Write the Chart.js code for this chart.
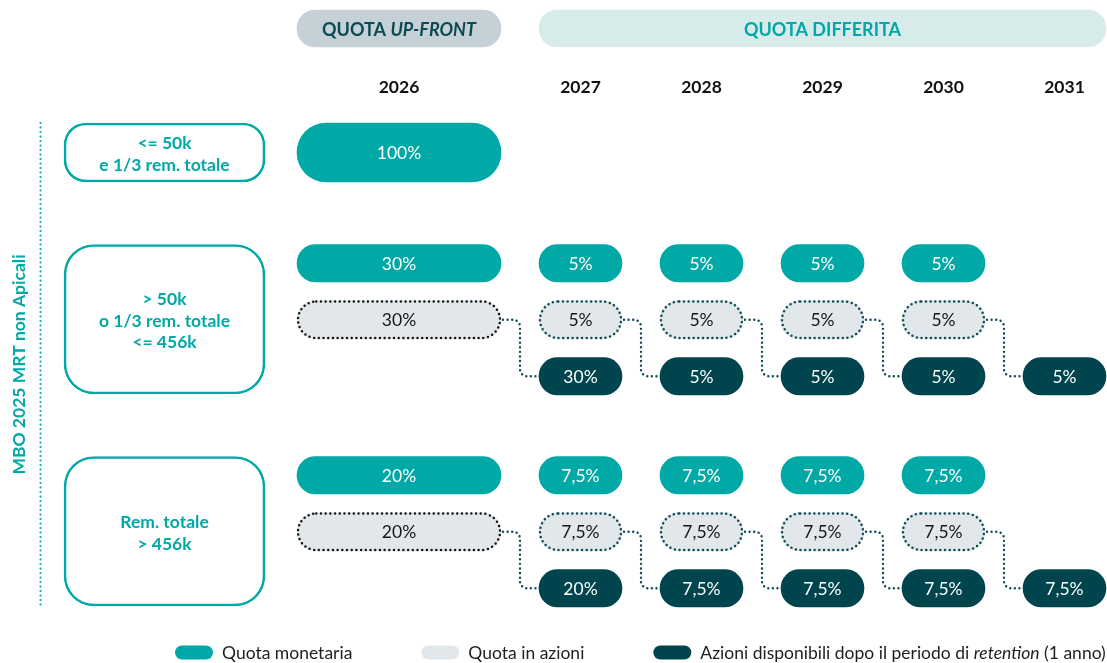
<!DOCTYPE html>
<html>
<head>
<meta charset="utf-8">
<script src="https://cdn.jsdelivr.net/npm/chart.js@4.4.1/dist/chart.umd.min.js"></script>
<style>
html,body{margin:0;padding:0;background:#ffffff;}
#wrap{position:relative;width:1107px;height:663px;overflow:hidden;}
canvas{display:block;}
</style>
</head>
<body>
<div id="wrap"><canvas id="c" width="1107" height="663"></canvas></div>
<script>
// ---------------- DATA ----------------
const years = ['2026', '2027', '2028', '2029', '2030', '2031'];
const phaseLabels = ['QUOTA UP-FRONT', 'QUOTA DIFFERITA'];
const phaseYears = [['2026'], ['2027', '2028', '2029', '2030', '2031']];
const bandLabels = [
  ['<= 50k', 'e 1/3 rem. totale'],
  ['> 50k', 'o 1/3 rem. totale', '<= 456k'],
  ['Rem. totale', '> 456k']
];
const sideTitle = 'MBO 2025 MRT non Apicali';
// percentages per band (rows) and year (columns); null = no share
const cashPct     = [[100, null, null, null, null, null], [30, 5, 5, 5, 5, null], [20, 7.5, 7.5, 7.5, 7.5, null]];
const sharesPct   = [[null, null, null, null, null, null], [30, 5, 5, 5, 5, null], [20, 7.5, 7.5, 7.5, 7.5, null]];
const releasedPct = [[null, null, null, null, null, null], [null, 30, 5, 5, 5, 5], [null, 20, 7.5, 7.5, 7.5, 7.5]];
const seriesNames = ['Quota monetaria', 'Quota in azioni', 'Azioni disponibili dopo il periodo di retention (1 anno)'];

// ---------------- STYLE / LAYOUT ----------------
const TEAL = '#00a8a6', DARK = '#00444e', GREY = '#e1e7ea';
const DOT_DARK = '#0c4a54', DOT_BLACK = '#141414';
const HDR1 = '#c6d0d7', HDR2 = '#d8ebeb', HDR1_TXT = '#0c4a52';
const FONT = 'Lato, "Open Sans", sans-serif';

const SLOT_PX = 121, ORIGIN_PX = 297, W = 1107, H = 663;
const X_MIN = -ORIGIN_PX / SLOT_PX, X_MAX = (W - ORIGIN_PX) / SLOT_PX;
const GAP = 38 / SLOT_PX;
const yearSlot = i => (i === 0 ? 0 : i + 1);
const yearSpan = i => (i === 0 ? 2 : 1);
const xRange = i => [yearSlot(i), yearSlot(i) + yearSpan(i) - GAP];
const BOX_X = [(64 - ORIGIN_PX) / SLOT_PX, (265 - ORIGIN_PX) / SLOT_PX];
const SIDE_LINE_X = (40.5 - ORIGIN_PX) / SLOT_PX;
const SIDE_TITLE_X = (18 - ORIGIN_PX) / SLOT_PX;

const GROUP_TOP = [123, 244.5, 456.5];
const PILL_H = 37.5, ROW_PITCH = 56.5, BIG_H = 59, BOX_H = 149.5;
const HEADER_Y = 28.5, YEAR_BASE = 92.5, LEGEND_Y = 652.5;
const rowY = (g, r) => (g === 0 ? GROUP_TOP[0] + BIG_H / 2 : GROUP_TOP[g] + PILL_H / 2 + r * ROW_PITCH);

const pctText = v => String(v).replace('.', ',') + '%';

function pills(values, row, groups) {
  const out = [];
  values.forEach((arr, g) => {
    if (!groups.includes(g)) return;
    arr.forEach((v, i) => {
      if (v === null || v === undefined) return;
      out.push({ x: xRange(i), y: rowY(g, row), v: v, g: g, i: i });
    });
  });
  return out;
}

const phaseData = phaseLabels.map((p, k) => {
  const first = years.indexOf(phaseYears[k][0]);
  const last = years.indexOf(phaseYears[k][phaseYears[k].length - 1]);
  return { x: [xRange(first)[0], xRange(last)[1]], y: HEADER_Y, label: p };
});

const common = { grouped: false, borderSkipped: false, borderWidth: 0, borderRadius: 200, clip: false };

const datasets = [
  Object.assign({}, common, { label: 'phases', data: phaseData, backgroundColor: [HDR1, HDR2], barThickness: 37 }),
  Object.assign({}, common, { label: 'band0', data: [{ x: BOX_X, y: GROUP_TOP[0] + BIG_H / 2, g: 0 }],
    backgroundColor: '#ffffff', borderColor: TEAL, borderWidth: 2.6, borderRadius: 22, barThickness: BIG_H, box: true }),
  Object.assign({}, common, { label: 'bands', data: [1, 2].map(g => ({ x: BOX_X, y: GROUP_TOP[g] + BOX_H / 2, g: g })),
    backgroundColor: '#ffffff', borderColor: TEAL, borderWidth: 2.6, borderRadius: 30, barThickness: BOX_H, box: true }),
  Object.assign({}, common, { label: seriesNames[0], data: pills(cashPct, 0, [0]), backgroundColor: TEAL, barThickness: BIG_H, valueColor: '#ffffff' }),
  Object.assign({}, common, { label: seriesNames[0], data: pills(cashPct, 0, [1, 2]), backgroundColor: TEAL, barThickness: PILL_H, valueColor: '#ffffff' }),
  Object.assign({}, common, { label: seriesNames[1], data: pills(sharesPct, 1, [0, 1, 2]), backgroundColor: GREY, barThickness: 38.5, valueColor: '#161616', dotted: true }),
  Object.assign({}, common, { label: seriesNames[2], data: pills(releasedPct, 2, [0, 1, 2]), backgroundColor: DARK, barThickness: PILL_H, valueColor: '#ffffff' })
];

function roundRectPath(ctx, x, y, w, h, r) {
  r = Math.min(r, w / 2, h / 2);
  ctx.beginPath();
  ctx.moveTo(x + r, y);
  ctx.lineTo(x + w - r, y);
  ctx.arc(x + w - r, y + r, r, -Math.PI / 2, 0);
  ctx.lineTo(x + w, y + h - r);
  ctx.arc(x + w - r, y + h - r, r, 0, Math.PI / 2);
  ctx.lineTo(x + r, y + h);
  ctx.arc(x + r, y + h - r, r, Math.PI / 2, Math.PI);
  ctx.lineTo(x, y + r);
  ctx.arc(x + r, y + r, r, Math.PI, Math.PI * 1.5);
  ctx.closePath();
}

function geom(el) {
  const p = el.getProps(['x', 'y', 'base', 'height'], true);
  const l = Math.min(p.x, p.base), r = Math.max(p.x, p.base);
  return { l: l, r: r, cx: (l + r) / 2, cy: p.y, h: p.height };
}

function drawMixed(ctx, parts, x, y, align) {
  const widths = parts.map(p => { ctx.font = p.font; return ctx.measureText(p.t).width; });
  const total = widths.reduce((a, b) => a + b, 0);
  let cx = align === 'center' ? x - total / 2 : x;
  ctx.textAlign = 'left';
  parts.forEach((p, k) => { ctx.font = p.font; ctx.fillText(p.t, cx, y); cx += widths[k]; });
  return total;
}

const decor = {
  id: 'decor',
  afterDatasetsDraw(chart) {
    const ctx = chart.ctx;
    const xs = chart.scales.x, ys = chart.scales.y;
    ctx.save();

    // dotted borders of the share pills
    chart.data.datasets.forEach((ds, di) => {
      if (!ds.dotted) return;
      chart.getDatasetMeta(di).data.forEach((el, k) => {
        const g = geom(el);
        ctx.save();
        ctx.strokeStyle = ds.data[k].i === 0 ? DOT_BLACK : DOT_DARK;
        ctx.lineWidth = 2.5;
        ctx.lineCap = 'round';
        ctx.setLineDash([0, 4.7]);
        roundRectPath(ctx, g.l + 1, g.cy - g.h / 2 + 1, g.r - g.l - 2, g.h - 2, (g.h - 2) / 2);
        ctx.stroke();
        ctx.restore();
      });
    });

    // connectors: share pill (year i) -> released pill (year i+1)
    const sharesIdx = chart.data.datasets.findIndex(d => d.label === seriesNames[1]);
    const relIdx = chart.data.datasets.findIndex(d => d.label === seriesNames[2]);
    const sMeta = chart.getDatasetMeta(sharesIdx), rMeta = chart.getDatasetMeta(relIdx);
    const sData = chart.data.datasets[sharesIdx].data, rData = chart.data.datasets[relIdx].data;
    sData.forEach((sd, k) => {
      const rk = rData.findIndex(rd => rd.g === sd.g && rd.i === sd.i + 1);
      if (rk < 0) return;
      const a = geom(sMeta.data[k]), b = geom(rMeta.data[rk]);
      const mid = (a.r + b.l) / 2, rad = 7;
      ctx.save();
      ctx.strokeStyle = DOT_DARK;
      ctx.lineWidth = 2.4;
      ctx.lineCap = 'round';
      ctx.setLineDash([0, 4.6]);
      ctx.beginPath();
      ctx.moveTo(a.r + 2, a.cy);
      ctx.lineTo(mid - rad, a.cy);
      ctx.arcTo(mid, a.cy, mid, a.cy + rad, rad);
      ctx.lineTo(mid, b.cy - rad);
      ctx.arcTo(mid, b.cy, mid + rad, b.cy, rad);
      ctx.lineTo(b.l - 1, b.cy);
      ctx.stroke();
      ctx.restore();
    });

    // value labels inside pills
    ctx.textBaseline = 'alphabetic';
    chart.data.datasets.forEach((ds, di) => {
      if (!ds.valueColor) return;
      chart.getDatasetMeta(di).data.forEach((el, k) => {
        const g = geom(el);
        ctx.fillStyle = ds.valueColor;
        ctx.font = '17.5px ' + FONT;
        ctx.textAlign = 'center';
        ctx.fillText(pctText(ds.data[k].v), g.cx, g.cy + 6.5);
      });
    });

    // header pill labels
    const phMeta = chart.getDatasetMeta(0);
    phMeta.data.forEach((el, k) => {
      const g = geom(el);
      if (k === 0) {
        ctx.fillStyle = HDR1_TXT;
        const words = phaseLabels[0].split(' ');
        drawMixed(ctx, [
          { t: words[0] + ' ', font: 'bold 18px ' + FONT },
          { t: words.slice(1).join(' '), font: 'italic bold 18px ' + FONT }
        ], g.cx, g.cy + 7, 'center');
      } else {
        ctx.fillStyle = TEAL;
        drawMixed(ctx, [{ t: phaseLabels[k], font: 'bold 18px ' + FONT }], g.cx, g.cy + 7, 'center');
      }
    });

    // year labels
    ctx.fillStyle = '#111111';
    ctx.font = 'bold 17.5px ' + FONT;
    ctx.textAlign = 'center';
    years.forEach((yr, i) => {
      const r = xRange(i);
      ctx.fillText(yr, xs.getPixelForValue((r[0] + r[1]) / 2), ys.getPixelForValue(YEAR_BASE));
    });

    // band box labels
    [1, 2].forEach(di => {
      chart.getDatasetMeta(di).data.forEach((el, k) => {
        const g = geom(el);
        const lines = bandLabels[chart.data.datasets[di].data[k].g];
        ctx.fillStyle = TEAL;
        ctx.font = 'bold 17.5px ' + FONT;
        ctx.textAlign = 'center';
        const lh = 21.5;
        const y0 = g.cy - (lines.length - 1) * lh / 2 + 7.5;
        lines.forEach((t, j) => ctx.fillText(t, g.cx, y0 + j * lh));
      });
    });

    // side dotted line and rotated title
    const sx = xs.getPixelForValue(SIDE_LINE_X);
    ctx.save();
    ctx.strokeStyle = TEAL;
    ctx.lineWidth = 2.2;
    ctx.lineCap = 'round';
    ctx.setLineDash([0, 4.5]);
    ctx.beginPath();
    ctx.moveTo(sx, ys.getPixelForValue(GROUP_TOP[0]));
    ctx.lineTo(sx, ys.getPixelForValue(GROUP_TOP[2] + BOX_H));
    ctx.stroke();
    ctx.restore();

    ctx.save();
    const tx = xs.getPixelForValue(SIDE_TITLE_X);
    const tyTop = ys.getPixelForValue(GROUP_TOP[0]), tyBot = ys.getPixelForValue(GROUP_TOP[2] + BOX_H);
    ctx.translate(tx, (tyTop + tyBot) / 2);
    ctx.rotate(-Math.PI / 2);
    ctx.fillStyle = TEAL;
    ctx.font = 'bold 17.5px ' + FONT;
    ctx.textAlign = 'center';
    ctx.fillText(sideTitle, 0, 6.5);
    ctx.restore();

    // legend
    const legendColors = [TEAL, GREY, DARK];
    let lx = 175;
    const ly = ys.getPixelForValue(LEGEND_Y);
    seriesNames.forEach((name, k) => {
      ctx.fillStyle = legendColors[k];
      roundRectPath(ctx, lx, ly - 7, 38, 14, 7);
      ctx.fill();
      lx += 38 + 9;
      ctx.fillStyle = '#1e1e1e';
      let parts;
      if (name.indexOf('retention') >= 0) {
        const a = name.split('retention');
        parts = [
          { t: a[0], font: '17.5px ' + FONT },
          { t: 'retention', font: 'italic 17.5px ' + FONT },
          { t: a[1], font: '17.5px ' + FONT }
        ];
      } else {
        parts = [{ t: name, font: '17.5px ' + FONT }];
      }
      const w = drawMixed(ctx, parts, lx, ly + 6, 'left');
      lx += w + 69;
    });

    ctx.restore();
  }
};

new Chart(document.getElementById('c').getContext('2d'), {
  type: 'bar',
  data: { datasets: datasets },
  options: {
    indexAxis: 'y',
    responsive: false,
    animation: false,
    layout: { padding: 0 },
    plugins: { legend: { display: false }, tooltip: { enabled: false } },
    scales: {
      x: { type: 'linear', display: false, offset: false, min: X_MIN, max: X_MAX },
      y: { type: 'linear', display: false, offset: false, min: 0, max: H, reverse: true, grid: { offset: false } }
    }
  },
  plugins: [decor]
});
</script>
</body>
</html>
